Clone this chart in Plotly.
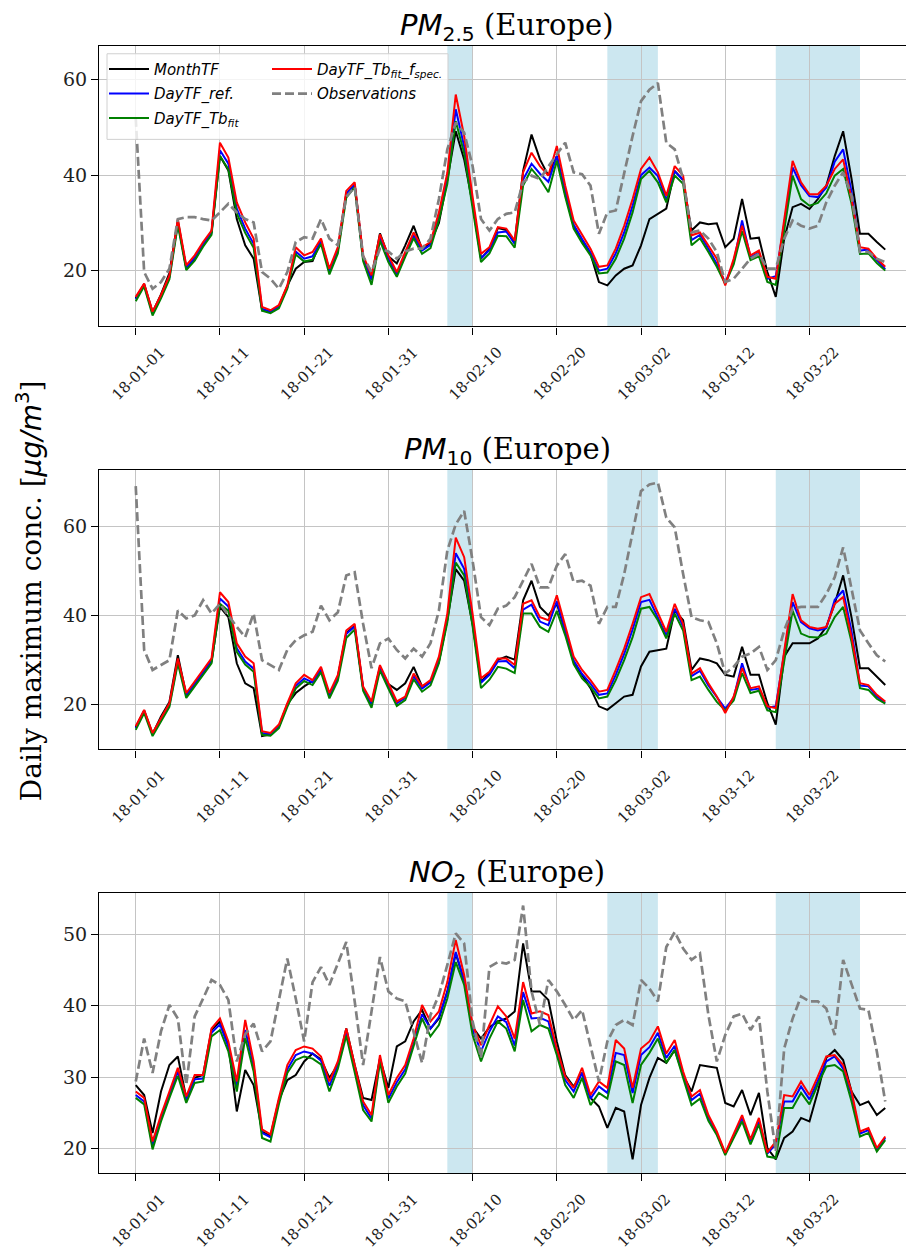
import pandas as pd
import plotly.graph_objects as go

# ---------------- data ----------------
dates = pd.date_range("2018-01-01", periods=90, freq="D")
tick_dates = pd.date_range("2018-01-01", periods=9, freq="10D")
shade_start = ["2018-02-07", "2018-02-26", "2018-03-18"]
shade_end = ["2018-02-10", "2018-03-04", "2018-03-28"]

# PM2.5
pm25_month = [14.2,17.2,11.3,15.0,19.5,30.5,20.5,22.3,25.5,28.0,
              44.0,41.0,30.8,25.3,22.5,11.7,11.5,12.5,16.8,20.4,
              21.8,22.0,26.3,20.0,24.5,36.0,38.0,22.8,18.5,27.8,
              23.0,21.5,25.3,29.4,24.5,25.8,30.0,39.0,49.2,43.3,
              34.0,22.5,24.5,28.9,28.5,26.0,40.9,48.5,43.3,39.9,
              44.0,36.0,29.3,26.5,23.5,17.6,16.9,19.0,20.4,21.1,
              25.3,30.8,31.9,33.0,40.9,39.0,28.4,30.1,29.7,29.9,
              24.9,26.7,35.0,26.7,26.9,19.7,14.5,26.7,33.3,34.0,
              32.9,35.0,37.8,44.0,49.2,39.2,27.7,27.7,26.0,24.4]
pm25_ref = [14.0,17.0,11.0,14.5,18.6,30.0,20.6,22.7,25.5,27.9,
            45.2,42.4,33.0,28.8,25.6,12.0,11.4,12.5,16.5,24.0,
            22.5,23.0,26.2,19.8,24.2,36.0,38.0,22.6,18.0,27.0,
            22.5,19.2,23.4,27.4,24.2,25.4,31.3,39.2,53.8,46.0,
            34.2,22.6,24.3,28.0,28.2,25.6,39.1,42.4,40.3,38.6,
            44.0,36.6,29.6,26.6,23.8,20.0,20.4,23.6,28.0,33.6,
            40.0,41.6,39.8,34.8,40.8,39.0,26.4,27.5,24.6,21.4,
            17.5,21.7,30.5,22.8,23.8,18.3,18.8,29.8,41.6,37.9,
            35.6,35.4,37.4,42.8,45.4,36.5,24.2,24.4,22.2,20.3]
pm25_tbfit = [13.6,16.7,10.6,14.2,18.2,29.6,20.1,22.1,25.0,27.5,
              44.0,41.2,32.0,27.9,24.8,11.6,11.1,12.1,16.2,23.4,
              21.9,22.3,25.6,19.2,23.6,35.3,37.5,22.0,17.0,26.3,
              21.8,18.7,22.9,26.8,23.5,24.7,30.6,38.2,51.3,44.6,
              33.1,21.8,23.6,27.3,27.2,24.8,37.8,41.3,39.2,36.4,
              43.0,35.5,28.8,25.8,23.2,19.4,19.6,22.5,26.7,32.2,
              39.2,40.9,38.5,34.3,39.9,38.2,25.3,26.8,23.9,20.8,
              17.2,21.3,28.3,22.2,23.0,17.6,17.0,28.5,39.9,35.0,
              33.6,34.2,36.2,39.9,41.3,34.0,23.5,23.6,21.6,20.0]
pm25_fspec = [14.5,17.3,11.4,14.9,19.0,30.8,21.1,23.2,26.0,28.4,
              46.8,43.7,34.3,30.1,26.7,12.4,11.7,12.8,16.9,24.9,
              23.2,23.9,26.7,20.4,24.9,36.7,38.5,23.2,19.0,27.6,
              23.2,19.7,23.9,28.0,24.9,26.0,32.2,40.5,56.9,48.2,
              35.5,23.5,24.9,29.1,28.8,26.3,40.6,44.7,41.9,39.9,
              46.1,37.8,30.5,27.4,24.6,20.8,21.1,24.6,29.4,35.0,
              41.3,43.7,40.6,35.7,41.9,39.9,27.4,28.0,25.3,22.5,
              16.9,22.5,29.4,23.2,24.2,18.7,18.3,30.5,43.0,38.5,
              36.0,36.0,37.8,41.3,43.3,35.0,24.9,24.6,22.5,20.8]
pm25_obs = [52.0,19.7,16.2,17.6,20.4,30.8,31.2,31.2,30.8,30.5,
            32.2,34.0,32.2,30.8,30.1,19.7,18.3,16.2,19.7,26.0,
            27.0,26.7,30.8,26.7,25.3,35.5,37.5,23.0,19.7,24.6,
            24.0,22.5,24.0,24.6,24.6,26.7,35.0,45.4,51.0,48.9,
            41.9,30.8,28.4,30.8,31.9,32.2,38.5,39.9,39.2,41.9,
            44.4,46.8,40.6,40.2,37.8,27.7,32.2,32.6,40.6,48.2,
            55.5,57.9,59.3,46.8,45.4,39.2,28.0,28.4,26.7,23.9,
            17.6,18.3,20.4,22.5,23.5,20.4,20.4,26.7,30.5,29.4,
            28.8,29.4,34.3,37.8,40.6,35.7,23.9,23.9,22.5,21.8]

# PM10
pm10_month = [14.8,18.6,13.3,17.2,20.5,31.0,22.0,24.5,27.0,29.5,
              41.9,39.6,29.2,24.7,23.6,12.8,13.2,15.0,20.0,22.5,
              24.0,25.2,27.8,22.0,26.2,36.0,37.6,23.6,20.0,28.4,
              24.5,23.2,24.7,28.4,24.0,25.0,29.5,39.0,50.4,47.8,
              38.0,25.0,27.0,30.0,30.7,30.0,43.4,47.8,41.9,40.0,
              42.6,36.5,29.5,26.5,23.6,19.5,18.7,20.2,21.7,22.1,
              28.5,31.8,32.2,32.5,41.1,38.9,27.7,30.3,29.9,29.2,
              26.6,26.2,32.9,26.6,26.6,20.2,15.4,30.7,33.7,33.7,
              33.7,34.8,37.4,42.6,49.0,39.5,28.1,28.1,26.2,24.3]
pm10_ref = [14.6,18.4,13.2,16.5,19.8,29.7,22.0,24.6,27.2,29.8,
            43.8,42.0,32.6,29.6,28.0,13.5,13.2,15.0,19.8,24.1,
            25.8,24.9,27.9,22.0,26.0,35.8,37.5,23.6,19.9,28.2,
            24.1,20.2,21.4,26.3,23.5,24.9,30.0,39.2,54.0,50.5,
            38.6,24.8,26.6,29.6,29.7,28.1,41.3,42.4,38.6,37.8,
            43.2,36.5,29.8,26.8,24.6,22.1,22.4,26.6,31.3,36.8,
            43.0,43.5,39.5,35.5,41.5,37.5,26.3,27.5,24.2,21.7,
            19.0,21.4,29.2,23.2,23.5,19.2,19.5,31.5,43.0,38.5,
            37.1,36.6,37.1,43.5,45.6,36.4,24.2,24.0,21.7,20.3]
pm10_tbfit = [14.2,18.0,12.8,16.1,19.4,29.2,21.4,24.0,26.6,29.2,
              42.6,41.0,31.8,28.9,27.3,13.1,12.9,14.6,19.4,23.5,
              25.2,24.3,27.2,21.3,25.3,34.9,36.8,23.0,19.2,27.6,
              23.5,19.6,20.9,25.6,22.8,24.2,29.2,38.4,51.9,49.0,
              37.6,23.6,25.5,28.4,28.0,27.0,40.4,40.4,37.4,36.3,
              41.0,35.5,29.0,25.8,23.9,21.3,21.7,25.4,29.9,35.1,
              41.5,41.9,38.9,34.8,40.4,36.6,25.4,26.2,23.2,20.5,
              18.6,20.8,27.0,22.5,23.0,18.6,18.2,30.0,41.1,35.9,
              35.1,35.0,35.9,39.6,41.9,34.0,23.6,23.2,21.2,20.1]
pm10_fspec = [15.0,18.7,13.5,16.9,20.2,30.3,22.5,25.1,27.7,30.3,
              45.2,43.0,33.7,30.7,29.2,13.9,13.5,15.4,20.2,24.7,
              26.6,25.4,28.4,22.5,26.6,36.6,38.1,24.0,20.6,28.8,
              24.7,20.6,21.7,26.9,24.0,25.4,30.7,40.4,57.5,53.1,
              40.4,25.8,27.3,30.3,30.3,28.8,42.6,43.4,39.6,38.9,
              44.5,37.4,30.7,27.7,25.4,22.8,23.2,27.7,32.5,38.1,
              44.1,44.8,40.4,36.3,42.6,38.1,26.9,28.1,24.7,21.7,
              18.0,21.7,28.1,23.6,24.0,19.5,19.1,32.2,44.8,38.9,
              37.4,37.0,37.4,42.6,44.1,35.1,24.7,24.3,22.1,20.6]
pm10_obs = [69.1,32.2,27.7,28.8,29.9,41.1,39.3,40.0,43.4,40.4,
            42.6,40.0,37.4,35.1,40.4,29.9,28.8,27.7,32.2,34.4,
            35.5,36.3,42.2,38.9,40.7,49.0,49.7,38.1,28.1,33.7,
            34.8,32.2,30.3,32.5,30.7,33.7,41.1,54.6,60.5,63.5,
            52.3,39.6,37.8,41.5,42.2,44.1,47.8,51.6,46.3,46.3,
            51.2,53.8,47.5,47.8,46.7,38.1,41.9,41.9,49.3,58.3,
            68.0,69.5,69.9,62.0,59.8,49.3,39.6,38.9,38.5,33.7,
            26.9,28.4,30.7,31.4,32.9,27.7,29.9,36.6,41.5,41.9,
            41.9,41.9,44.8,48.6,55.3,45.6,36.6,33.7,31.0,29.6]

# NO2
no2_month = [28.9,27.5,22.2,28.0,31.7,32.9,27.1,29.9,30.3,36.6,
             37.8,34.5,25.2,31.0,28.9,22.4,21.8,26.8,29.6,30.3,
             32.2,33.3,32.5,29.9,31.7,36.8,31.7,27.1,26.8,32.6,
             28.5,34.3,35.0,37.8,39.4,36.8,38.2,42.0,47.3,43.5,
             37.0,35.4,37.0,37.8,38.2,39.2,48.7,42.0,42.0,40.8,
             35.0,30.3,28.7,30.6,27.1,25.9,22.9,25.7,25.2,18.5,
             26.1,29.9,32.7,32.0,33.8,30.3,28.0,31.7,31.5,31.3,
             26.4,25.9,28.2,24.7,27.8,20.1,18.5,21.5,22.4,24.3,
             23.8,28.0,32.7,33.8,32.4,28.0,26.1,26.6,24.7,25.7]
no2_ref = [27.5,26.6,20.4,24.2,27.5,30.8,26.8,29.7,29.8,36.2,
           37.4,34.2,28.7,36.6,31.6,22.2,21.6,26.6,31.1,33.1,
           33.6,33.3,32.3,28.8,31.7,36.3,31.2,26.1,24.2,32.6,
           27.0,29.3,31.1,34.7,38.8,36.8,38.4,41.9,47.5,43.4,
           36.6,33.6,36.4,38.5,37.7,34.4,41.9,38.2,38.3,37.8,
           33.4,29.6,28.0,30.6,27.0,28.7,27.8,33.4,33.1,27.8,
           33.1,34.2,36.2,32.7,34.4,30.3,26.8,27.7,24.4,22.1,
           19.3,21.8,24.3,21.1,24.0,19.3,20.6,26.6,26.6,28.7,
           26.9,29.5,32.2,32.9,31.2,27.5,22.1,22.6,19.8,21.5]
no2_tbfit = [27.1,26.2,19.9,23.8,27.1,30.2,26.4,29.2,29.4,35.7,
             36.6,33.6,28.0,35.5,30.8,21.5,21.0,26.2,30.6,32.4,
             32.9,32.6,31.8,28.0,31.2,35.8,30.7,25.4,23.8,32.1,
             26.4,28.7,30.5,34.4,38.2,35.7,37.3,41.0,46.1,42.9,
             35.9,32.2,35.4,37.8,36.8,33.6,40.8,36.4,37.3,36.8,
             33.1,28.9,27.1,29.9,26.1,27.8,27.0,32.2,31.7,26.4,
             31.7,33.4,35.4,32.0,33.8,29.9,26.1,27.0,23.9,21.9,
             19.1,21.5,23.8,20.6,23.4,18.9,18.7,25.7,25.7,27.8,
             26.2,29.0,31.5,31.7,30.8,26.6,21.7,22.2,19.6,21.2]
no2_fspec = [28.0,27.1,21.0,24.7,28.0,31.3,27.3,30.3,30.3,36.8,
             38.2,35.0,29.4,38.0,32.2,22.7,22.0,27.1,31.7,33.8,
             34.3,34.0,32.9,29.4,32.2,36.8,31.7,26.6,24.7,33.1,
             27.5,29.9,31.7,35.4,40.1,37.8,39.2,43.3,49.2,44.3,
             37.3,34.5,37.3,39.9,38.5,35.4,43.3,38.9,39.2,38.7,
             34.0,30.1,28.5,31.3,27.5,29.4,28.5,35.2,34.0,28.5,
             34.0,35.0,37.1,33.3,35.2,30.8,27.3,28.2,24.7,22.4,
             19.4,22.0,24.7,21.3,24.3,19.5,21.0,27.5,27.3,29.4,
             27.5,30.1,32.9,33.1,31.7,28.0,22.4,22.9,20.1,21.7]
no2_obs = [29.4,35.4,30.6,36.4,40.1,38.2,28.9,38.5,41.0,43.6,
           42.9,40.8,32.2,36.0,37.5,33.6,35.0,40.6,46.6,41.0,
           35.0,43.3,45.4,42.9,45.9,48.9,40.6,31.7,39.2,46.8,
           42.0,41.0,40.6,36.4,32.0,38.7,41.5,45.7,50.1,48.7,
           37.8,32.7,45.4,46.1,45.9,46.4,54.0,42.0,37.3,43.6,
           42.0,40.1,38.0,39.4,34.5,29.4,35.0,37.3,38.0,37.3,
           43.6,42.4,40.6,48.2,50.3,48.0,46.4,47.3,38.7,32.2,
           35.9,38.5,38.9,36.6,38.5,28.0,19.6,34.0,38.2,41.3,
           40.6,40.6,39.6,35.9,46.4,42.9,39.6,39.4,33.6,26.6]

series_names = ["MonthTF", "DayTF_ref.", "DayTF_Tb<sub>fit</sub>",
                "DayTF_Tb<sub>fit</sub>_f<sub>spec.</sub>", "Observations"]
series_colors = ["black", "#0000ff", "#008000", "#ff0000", "gray"]

panels = [
    dict(title="PM", sub="2.5", data=[pm25_month, pm25_ref, pm25_tbfit, pm25_fspec, pm25_obs],
         yrange=[8.3, 67.1], yticks=[20, 40, 60]),
    dict(title="PM", sub="10", data=[pm10_month, pm10_ref, pm10_tbfit, pm10_fspec, pm10_obs],
         yrange=[9.8, 72.8], yticks=[20, 40, 60]),
    dict(title="NO", sub="2", data=[no2_month, no2_ref, no2_tbfit, no2_fspec, no2_obs],
         yrange=[16.55, 55.8], yticks=[20, 30, 40, 50]),
]

# ---------------- layout geometry ----------------
# The page body adds an 8px margin; screen positions are converted accordingly.
OFF = 8
W, H = 906, 1243


def fx(px):
    return (px - OFF) / W


def fy(py):
    return 1 - (py - OFF) / H


x_dom = [fx(99), fx(908)]
y_doms = [[fy(328), fy(46)], [fy(753), fy(472)], [fy(1179), fy(897)]]
x_range = ["2017-12-27 15:20", "2018-04-02 16:50"]

fig = go.Figure()

legend_of = ["legend", "legend", "legend", "legend2", "legend2"]

for p_i, p in enumerate(panels):
    sfx = "" if p_i == 0 else str(p_i + 1)
    for s_i, vals in enumerate(p["data"]):
        is_obs = s_i == 4
        fig.add_trace(go.Scatter(
            x=dates, y=vals, mode="lines",
            name="<i>" + series_names[s_i] + "</i>",
            line=dict(color=series_colors[s_i], width=2.7 if is_obs else 2.0,
                      dash="9px,4px" if is_obs else "solid"),
            xaxis="x" + sfx, yaxis="y" + sfx,
            showlegend=(p_i == 0), legend=legend_of[s_i],
            legendgroup="g%d" % s_i,
        ))
    for a, b in zip(shade_start, shade_end):
        fig.add_shape(type="rect", xref="x" + sfx, yref="y" + sfx + " domain",
                      x0=a, x1=b, y0=0, y1=1, fillcolor="rgba(173,216,230,0.62)",
                      line=dict(width=0), layer="below")

    common_x = dict(domain=x_dom, type="date", range=x_range, tickvals=list(tick_dates),
                    tickformat="%y-%m-%d", tickangle=-45, ticks="outside", ticklen=7,
                    tickwidth=1, tickcolor="black", showgrid=True, gridcolor="#c4c4c4",
                    gridwidth=1, showline=True, mirror=True, linecolor="black", linewidth=1.2,
                    tickfont=dict(family="DejaVu Serif", size=15, color="#222"),
                    ticklabelshift=25, ticklabelstandoff=3,
                    anchor="y" + sfx, zeroline=False)
    common_y = dict(domain=y_doms[p_i], range=p["yrange"], tickvals=p["yticks"],
                    ticks="outside", ticklen=7, tickwidth=1, tickcolor="black",
                    showgrid=True, gridcolor="#c4c4c4", gridwidth=1, showline=True,
                    mirror=True, linecolor="black", linewidth=1.2, zeroline=False,
                    tickfont=dict(family="DejaVu Serif", size=19, color="#222"),
                    anchor="x" + sfx)
    fig.update_layout(**{"xaxis" + sfx: common_x, "yaxis" + sfx: common_y})

    fig.add_annotation(
        xref="paper", yref="paper", x=(x_dom[0] + x_dom[1]) / 2 + 0.004, y=y_doms[p_i][1],
        yanchor="bottom", xanchor="center", showarrow=False, yshift=-2,
        text='<span style="font-family:DejaVu Sans"><i>%s</i><sub>%s</sub></span> (Europe)'
             % (p["title"], p["sub"]),
        font=dict(family="DejaVu Serif", size=29, color="black"))

# y-axis label
fig.add_annotation(
    xref="paper", yref="paper", x=fx(29), y=fy(594), textangle=-90,
    showarrow=False, xanchor="center", yanchor="middle",
    text='Daily maximum conc. [<span style="font-family:DejaVu Sans"><i>μg/m</i><sup>3</sup></span>]',
    font=dict(family="DejaVu Serif", size=28, color="black"))

# legend frame (one box around both legend columns)
fig.add_shape(type="rect", xref="paper", yref="paper",
              x0=fx(107), x1=fx(448), y0=fy(140), y1=fy(54),
              fillcolor="rgba(255,255,255,0.82)", line=dict(color="#d0d0d0", width=1),
              layer="above")

legend_common = dict(bgcolor="rgba(0,0,0,0)", borderwidth=0, traceorder="grouped",
                     tracegroupgap=2, itemwidth=40,
                     font=dict(family="DejaVu Sans", size=15, color="black"),
                     xanchor="left", yanchor="top")
fig.update_layout(
    legend=dict(x=fx(104), y=fy(53), **legend_common),
    legend2=dict(x=fx(267), y=fy(53), **legend_common),
)

fig.update_layout(width=W, height=H, margin=dict(l=0, r=0, t=0, b=0),
                  paper_bgcolor="white", plot_bgcolor="white")

fig.write_html("out.html")
